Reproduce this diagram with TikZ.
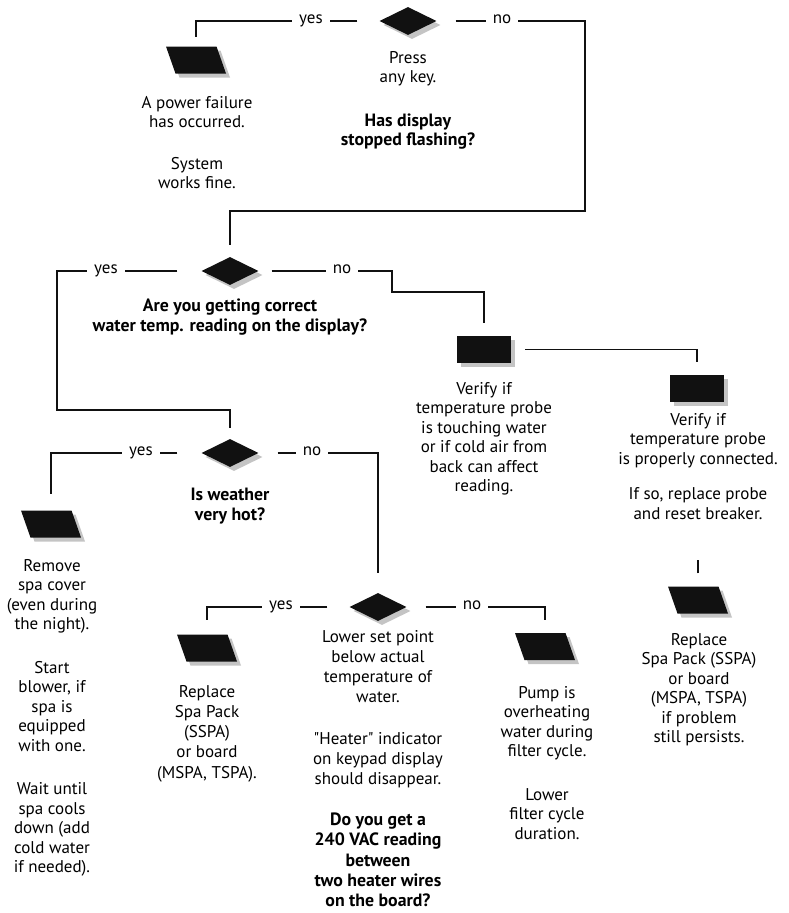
\documentclass[tikz,border=0pt]{standalone}
\usepackage{fontspec}
\setmainfont{PT Sans}[Ligatures=TeXOff]
\usepackage{tikz}
\usetikzlibrary{shapes.geometric,shadows}
\definecolor{ink}{HTML}{111111}
\definecolor{shade}{HTML}{C4C4C4}
\newcommand\ask[1]{{\fontsize{17.8}{19.5}\selectfont\bfseries #1}}
\tikzset{
  link/.style={draw=ink, line width=1.1pt},
  shadowed/.style={drop shadow={shadow xshift=4pt, shadow yshift=-4pt, fill=shade, opacity=1}},
  decision/.style={diamond, aspect=2, fill=ink, inner sep=0pt, minimum width=57pt, minimum height=28pt, shadowed},
  action/.style={trapezium, trapezium left angle=103, trapezium right angle=77, trapezium stretches=true,
    fill=ink, inner sep=2pt, minimum width=60pt, minimum height=27pt, shadowed},
  check/.style={rectangle, fill=ink, inner sep=0pt, minimum width=54pt, minimum height=27pt, shadowed},
  answer/.style={fill=white, inner xsep=7pt, inner ysep=1pt, anchor=base, yshift=-2pt, font=\fontsize{17}{19.5}\selectfont},
  note/.style={align=center, anchor=north, inner sep=0pt, font=\fontsize{17}{19.5}\selectfont},
  widenote/.style={note, font=\fontsize{17}{20.2}\selectfont}
}

\begin{document}
\begin{tikzpicture}[x=1pt,y=-1pt]
  \useasboundingbox (0,0) rectangle (789,913);

  % has display stopped flashing
  \node[decision] (d1) at (408,21) {};
  \node[action] (p1) at (196,60) {};
  \node[note] (t1) at (197,96) {A power failure\\has occurred.\\[22pt]System\\works fine.};
  \node[note] (t2) at (408,51) {Press\\any key.\\[24pt]\ask{Has display}\\\ask{stopped flashing?}};
  \coordinate (c1) at (585,211);

  % correct water temp
  \node[decision] (d2) at (230,271) {};
  \node[note] (t3) at (230,299) {\ask{Are you getting correct}\\\ask{water temp. reading on the display?}};
  \coordinate (c2) at (57,410);
  \coordinate (c3) at (392,292);

  \node[check] (b1) at (484,349.5) {};
  \node[note] (t4) at (484,382) {Verify if\\temperature probe\\is touching water\\or if cold air from\\back can affect\\reading.};
  \node[check] (b2) at (697,388.5) {};
  \node[note] (t5) at (698,413) {Verify if\\temperature probe\\is properly connected.\\[16pt]If so, replace probe\\and reset breaker.};
  \node[action] (p2) at (698,600) {};
  \node[note] (t6) at (699,633) {Replace\\Spa Pack (SSPA)\\or board\\(MSPA, TSPA)\\if problem\\still persists.};

  % weather
  \node[decision] (d3) at (230,453) {};
  \node[note] (t7) at (230,488) {\ask{Is weather}\\\ask{very hot?}};
  \node[action] (p3) at (51,524) {};
  \node[note] (t8) at (52,559) {Remove\\spa cover\\(even during\\the night).\\[24pt]Start\\blower, if\\spa is\\equipped\\with one.\\[24pt]Wait until\\spa cools\\down (add\\cold water\\if needed).};

  % heater
  \node[decision] (d4) at (378,607) {};
  \node[action] (p4) at (207,648) {};
  \node[widenote] (t9) at (207,685) {Replace\\Spa Pack\\(SSPA)\\or board\\(MSPA, TSPA).};
  \node[widenote] (t10) at (378,630) {Lower set point\\below actual\\temperature of\\water.\\[21pt]"Heater" indicator\\on keypad display\\should disappear.\\[21pt]\ask{Do you get a}\\\ask{240 VAC reading}\\\ask{between}\\\ask{two heater wires}\\\ask{on the board?}};
  \node[action] (p5) at (545,646.5) {};
  \node[note] (t11) at (547,686) {Pump is\\overheating\\water during\\filter cycle.\\[24pt]Lower\\filter cycle\\duration.};

  % connectors
  \draw[link, shorten <=22pt, shorten >=9pt] (d1.west) -| (p1.north);
  \draw[link, shorten <=19pt, shorten >=12pt] (d1.east) -| (c1) -| (d2.north);
  \draw[link, shorten <=24pt, shorten >=11pt] (d2.west) -| (c2) -| (d3.north);
  \draw[link, shorten <=13pt, shorten >=13pt] (d2.east) -| (c3) -| (b1.north);
  \draw[link, shorten <=14pt, shorten >=13pt] (b1.east) -| (b2.north);
  \draw[link] ([yshift=13pt]p2.north) -- ++(0,-13);
  \draw[link, shorten <=24pt, shorten >=16pt] (d3.west) -| (p3.north);
  \draw[link, shorten <=19pt, shorten >=20pt] (d3.east) -| (d4.north);
  \draw[link, shorten <=22pt, shorten >=14pt] (d4.west) -| (p4.north);
  \draw[link, shorten <=19pt, shorten >=13pt] (d4.east) -| (p5.north);

  % yes / no
  \node[answer] (y1) at (311,21) {yes};
  \node[answer] (n1) at (502,21) {no};
  \node[answer] (y2) at (106,271) {yes};
  \node[answer] (n2) at (342,271) {no};
  \node[answer] (y3) at (141,453) {yes};
  \node[answer] (n3) at (312,453) {no};
  \node[answer] (y4) at (281,607) {yes};
  \node[answer] (n4) at (472,607) {no};
\end{tikzpicture}
\end{document}
